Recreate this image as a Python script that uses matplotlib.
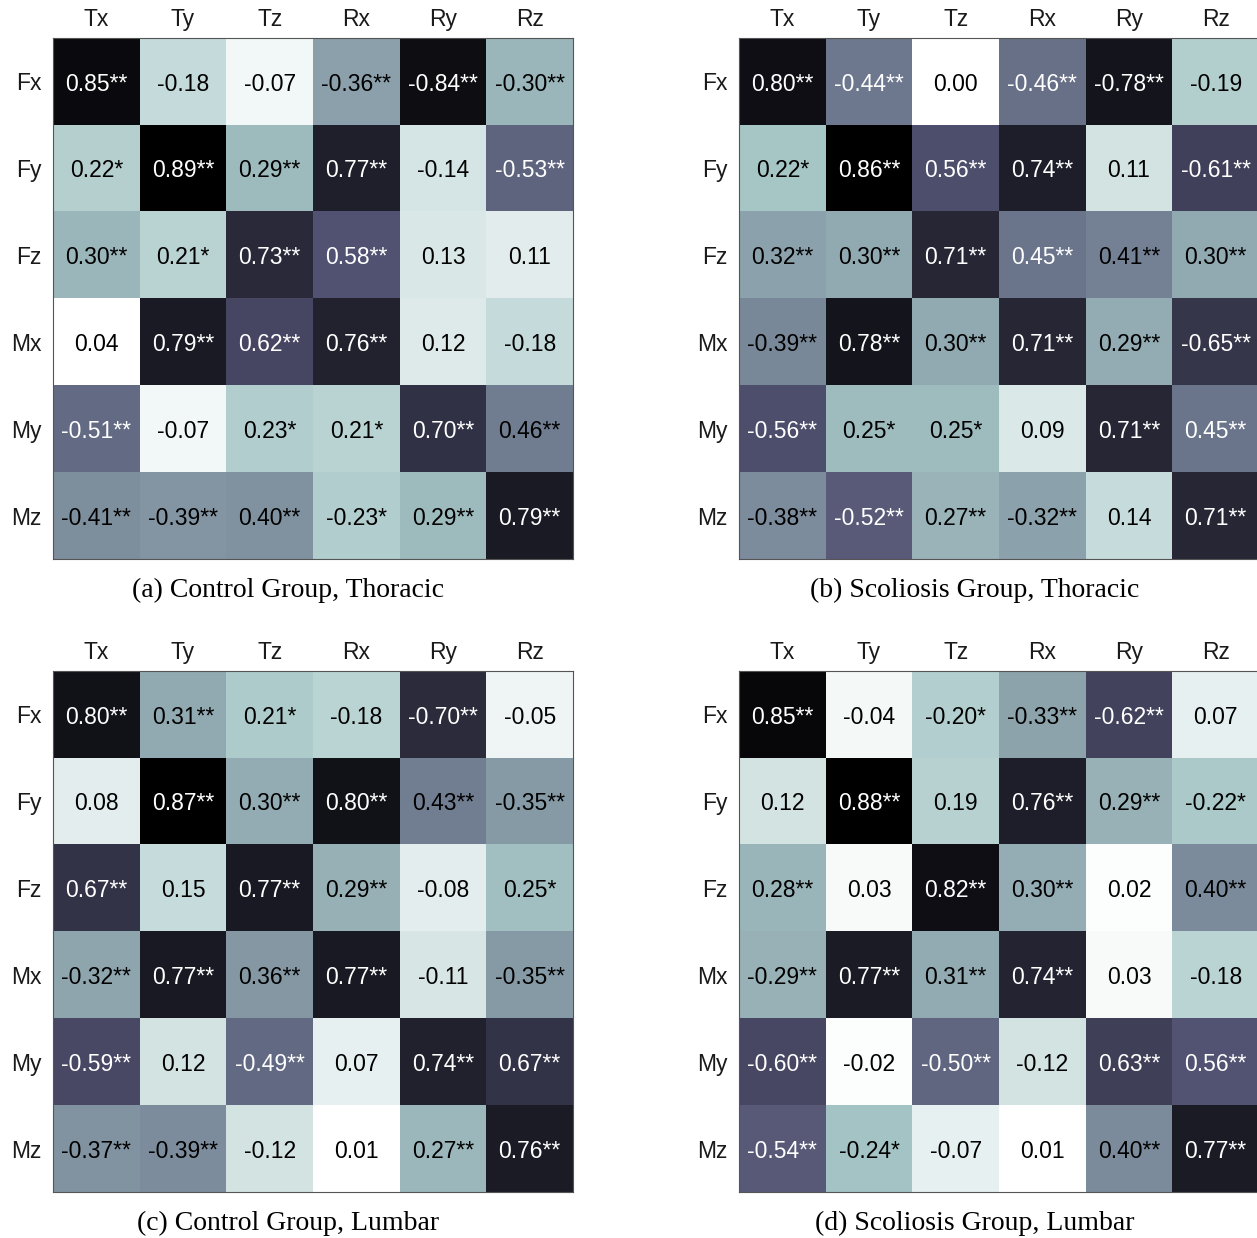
import numpy as np
import matplotlib
matplotlib.use("Agg")
import matplotlib.pyplot as plt

# Motion / load component labels
col_labels = ["Tx", "Ty", "Tz", "Rx", "Ry", "Rz"]
row_labels = ["Fx", "Fy", "Fz", "Mx", "My", "Mz"]

# Correlation coefficients per group and spinal region
control_thoracic = [
    [0.85, -0.18, -0.07, -0.36, -0.84, -0.30],
    [0.22, 0.89, 0.29, 0.77, -0.14, -0.53],
    [0.30, 0.21, 0.73, 0.58, 0.13, 0.11],
    [0.04, 0.79, 0.62, 0.76, 0.12, -0.18],
    [-0.51, -0.07, 0.23, 0.21, 0.70, 0.46],
    [-0.41, -0.39, 0.40, -0.23, 0.29, 0.79],
]
scoliosis_thoracic = [
    [0.80, -0.44, 0.00, -0.46, -0.78, -0.19],
    [0.22, 0.86, 0.56, 0.74, 0.11, -0.61],
    [0.32, 0.30, 0.71, 0.45, 0.41, 0.30],
    [-0.39, 0.78, 0.30, 0.71, 0.29, -0.65],
    [-0.56, 0.25, 0.25, 0.09, 0.71, 0.45],
    [-0.38, -0.52, 0.27, -0.32, 0.14, 0.71],
]
control_lumbar = [
    [0.80, 0.31, 0.21, -0.18, -0.70, -0.05],
    [0.08, 0.87, 0.30, 0.80, 0.43, -0.35],
    [0.67, 0.15, 0.77, 0.29, -0.08, 0.25],
    [-0.32, 0.77, 0.36, 0.77, -0.11, -0.35],
    [-0.59, 0.12, -0.49, 0.07, 0.74, 0.67],
    [-0.37, -0.39, -0.12, 0.01, 0.27, 0.76],
]
scoliosis_lumbar = [
    [0.85, -0.04, -0.20, -0.33, -0.62, 0.07],
    [0.12, 0.88, 0.19, 0.76, 0.29, -0.22],
    [0.28, 0.03, 0.82, 0.30, 0.02, 0.40],
    [-0.29, 0.77, 0.31, 0.74, 0.03, -0.18],
    [-0.60, -0.02, -0.50, -0.12, 0.63, 0.56],
    [-0.54, -0.24, -0.07, 0.01, 0.40, 0.77],
]

# Significance level: 2 -> p<0.01 (**), 1 -> p<0.05 (*), 0 -> n.s.
sig_control_thoracic = [
    [2, 0, 0, 2, 2, 2],
    [1, 2, 2, 2, 0, 2],
    [2, 1, 2, 2, 0, 0],
    [0, 2, 2, 2, 0, 0],
    [2, 0, 1, 1, 2, 2],
    [2, 2, 2, 1, 2, 2],
]
sig_scoliosis_thoracic = [
    [2, 2, 0, 2, 2, 0],
    [1, 2, 2, 2, 0, 2],
    [2, 2, 2, 2, 2, 2],
    [2, 2, 2, 2, 2, 2],
    [2, 1, 1, 0, 2, 2],
    [2, 2, 2, 2, 0, 2],
]
sig_control_lumbar = [
    [2, 2, 1, 0, 2, 0],
    [0, 2, 2, 2, 2, 2],
    [2, 0, 2, 2, 0, 1],
    [2, 2, 2, 2, 0, 2],
    [2, 0, 2, 0, 2, 2],
    [2, 2, 0, 0, 2, 2],
]
sig_scoliosis_lumbar = [
    [2, 0, 1, 2, 2, 0],
    [0, 2, 0, 2, 2, 1],
    [2, 0, 2, 2, 0, 2],
    [2, 2, 2, 2, 0, 0],
    [2, 0, 2, 0, 2, 2],
    [2, 1, 0, 0, 2, 2],
]

captions = [
    "(a) Control Group, Thoracic",
    "(b) Scoliosis Group, Thoracic",
    "(c) Control Group, Lumbar",
    "(d) Scoliosis Group, Lumbar",
]

panels = [
    (control_thoracic, sig_control_thoracic),
    (scoliosis_thoracic, sig_scoliosis_thoracic),
    (control_lumbar, sig_control_lumbar),
    (scoliosis_lumbar, sig_scoliosis_lumbar),
]

SANS = ["Liberation Sans", "DejaVu Sans"]
SERIF = ["Liberation Serif", "DejaVu Serif"]
FS = 16.5

W, H = 1257, 1238
fig = plt.figure(figsize=(W / 100, H / 100), dpi=100)

# axes boxes in pixels: (left, top); every panel is size_w x size_h
boxes = [(53, 38), (739, 38), (53, 671), (739, 671)]
size_w, size_h = 520, 521
caption_pos = [(288, 590), (975, 590), (288, 1223), (975, 1223)]

for (vals, sig), (lx, ty), cap, (cx, cy) in zip(panels, boxes, captions, caption_pos):
    r = np.array(vals, dtype=float)
    s = np.array(sig)
    mag = np.abs(r)
    ax = fig.add_axes([lx / W, 1 - (ty + size_h) / H, size_w / W, size_h / H])
    im = ax.imshow(mag, cmap="bone_r", aspect="auto")

    ax.set_xticks(np.arange(len(col_labels)), labels=col_labels)
    ax.set_yticks(np.arange(len(row_labels)), labels=row_labels)
    ax.tick_params(top=True, bottom=False, labeltop=True, labelbottom=False,
                   length=0, labelsize=FS)
    ax.tick_params(axis="x", pad=5)
    ax.tick_params(axis="y", pad=8)
    for lab in ax.get_xticklabels() + ax.get_yticklabels():
        lab.set_family(SANS)
        lab.set_color("#1a1a1a")
    for lab in ax.get_yticklabels():
        lab.set_va("center_baseline")
    for sp in ax.spines.values():
        sp.set_color("#555555")
        sp.set_linewidth(0.8)

    threshold = im.norm(mag.max()) / 2.0
    for i in range(r.shape[0]):
        for j in range(r.shape[1]):
            txt = f"{r[i, j]:.2f}" + "*" * int(s[i, j])
            color = "white" if im.norm(mag[i, j]) > threshold else "black"
            ax.text(j, i + 0.105, txt, ha="center", va="baseline", color=color,
                    fontsize=FS, family=SANS)

    fig.text(cx / W, 1 - cy / H, cap, ha="center", va="center",
             fontsize=20, family=SERIF, color="black")

fig.savefig("out.png", dpi=100)
